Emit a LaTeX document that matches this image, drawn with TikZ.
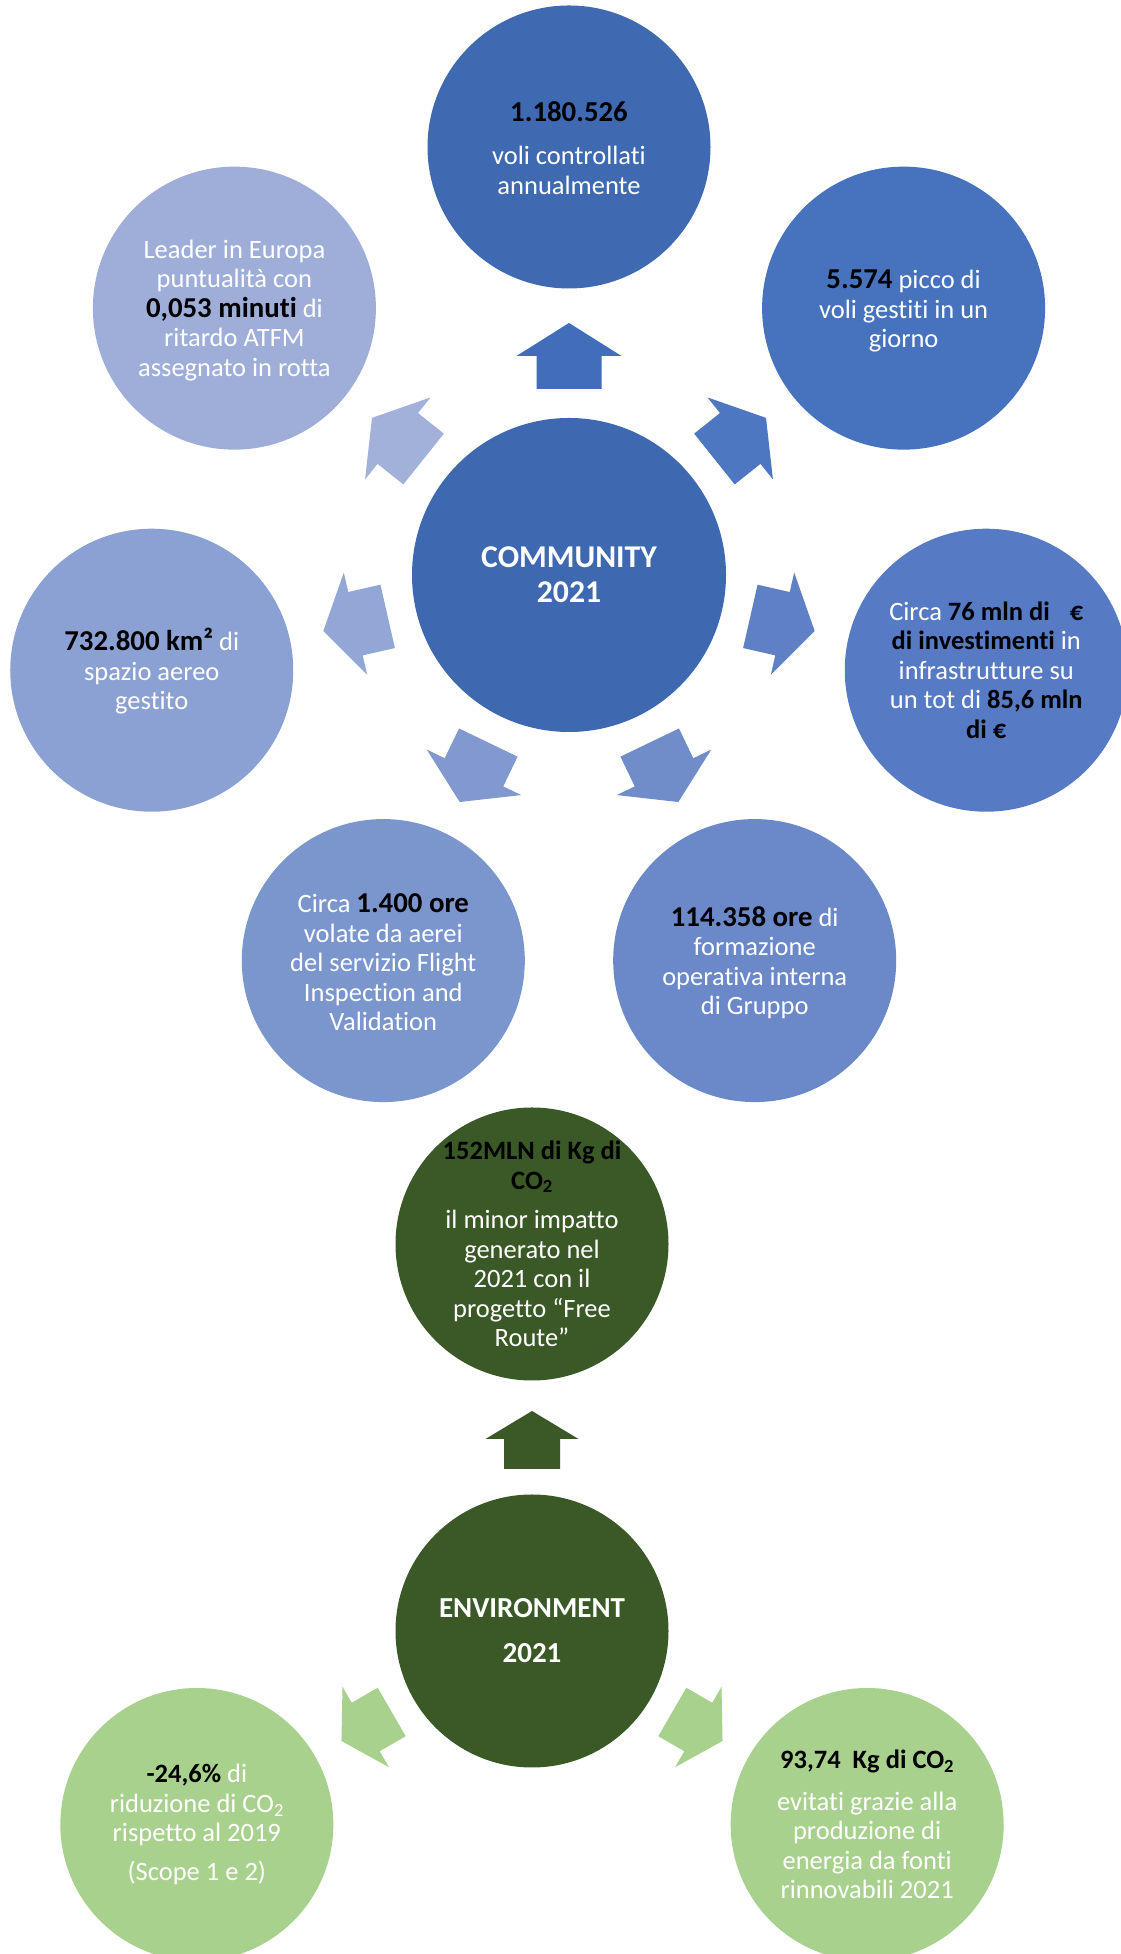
\documentclass[tikz,border=0pt]{standalone}
\usepackage{fontspec}
\setmainfont{Carlito}[RawFeature={-liga;-clig;-dlig}]
\usetikzlibrary{calc}
\definecolor{cCen}{HTML}{3E68B0}
\definecolor{cTop}{HTML}{3F69B1}
\definecolor{aTop}{HTML}{416DBB}
\definecolor{cTR}{HTML}{4672BE}
\definecolor{aTR}{HTML}{4D77C1}
\definecolor{cR}{HTML}{567AC3}
\definecolor{aR}{HTML}{5E81C6}
\definecolor{cBR}{HTML}{6B88C8}
\definecolor{aBR}{HTML}{708DCA}
\definecolor{cBL}{HTML}{7B95CD}
\definecolor{aBL}{HTML}{8199CF}
\definecolor{cL}{HTML}{8BA1D3}
\definecolor{aL}{HTML}{92A7D5}
\definecolor{cTL}{HTML}{9EAED8}
\definecolor{aTL}{HTML}{A1B1D9}
\definecolor{gDark}{HTML}{3A5926}
\definecolor{gLight}{HTML}{A9D18E}
\newcommand\bk[1]{{\fontsize{28.8}{29.5}\selectfont\bfseries\color{black}#1}}
\newcommand\bn[1]{{\bfseries\color{black}#1}}
\newcommand\blockarrow[8]{\fill[#3,shift={(#1.center)},rotate=#2] (#4,-#7) -- (#5,-#7) -- (#5,-#8) -- (#6,0) -- (#5,#8) -- (#5,#7) -- (#4,#7) -- cycle;}
\begin{document}
\begin{tikzpicture}[x=1pt,y=1pt,
  sat/.style={circle,inner sep=0pt,minimum size=283pt,draw=none},
  gsat/.style={circle,inner sep=0pt,minimum size=273pt,draw=none},
  txt/.style={align=center,text=white,inner sep=0pt,font=\fontsize{26.5}{29.5}\selectfont}]
\useasboundingbox (0,0) rectangle (1121,1954);
\fill[white] (0,0) rectangle (1121,1954);
% ---------------- COMMUNITY ----------------
\node[circle,inner sep=0pt,minimum size=314pt,fill=cCen] (com) at (569,1379) {};
\node[txt,font=\fontsize{31.7}{35}\selectfont\bfseries] (comT) at (com) {COMMUNITY\\2021};

\node[sat,fill=cTop] (top) at ($(com)+(90:428)$) {};
\node[sat,fill=cTR] (tr) at ($(com)+(38.571:428)$) {};
\node[sat,fill=cR] (rt) at ($(com)+(-12.857:428)$) {};
\node[sat,fill=cBR] (br) at ($(com)+(-64.286:428)$) {};
\node[sat,fill=cBL] (bl) at ($(com)+(-115.714:428)$) {};
\node[sat,fill=cL] (lt) at ($(com)+(-167.143:428)$) {};
\node[sat,fill=cTL] (tl) at ($(com)+(141.429:428)$) {};

\blockarrow{com}{90}{aTop}{186}{219}{252}{32.5}{52.5}
\blockarrow{com}{38.571}{aTR}{186}{219}{252}{32.5}{52.5}
\blockarrow{com}{-12.857}{aR}{186}{219}{252}{32.5}{52.5}
\blockarrow{com}{-64.286}{aBR}{186}{219}{252}{32.5}{52.5}
\blockarrow{com}{-115.714}{aBL}{186}{219}{252}{32.5}{52.5}
\blockarrow{com}{-167.143}{aL}{186}{219}{252}{32.5}{52.5}
\blockarrow{com}{141.429}{aTL}{186}{219}{252}{32.5}{52.5}

\node[txt] (topT) at ($(top)+(0,-1)$) {\bk{1.180.526}\\[14pt]voli controllati\\annualmente};
\node[txt] (trT) at ($(tr)+(0,-3)$) {\bk{5.574} picco di\\voli gestiti in un\\giorno};
\node[txt] (rtT) at (rt) {Circa \bn{76 mln di\hspace{20pt}€}\\\bn{di investimenti} in\\infrastrutture su\\un tot di \bn{85,6 mln}\\\bn{di €}};
\node[txt] (brT) at ($(br)+(0,-2)$) {\bk{114.358 ore} di\\formazione\\operativa interna\\di Gruppo};
\node[txt] (blT) at ($(bl)+(0,-2)$) {Circa \bk{1.400 ore}\\volate da aerei\\del servizio Flight\\Inspection and\\Validation};
\node[txt] (ltT) at ($(lt)+(0,-1)$) {\bk{732.800 km²} di\\spazio aereo\\gestito};
\node[txt] (tlT) at ($(tl)+(0,-2)$) {Leader in Europa\\puntualità con\\\bk{0,053 minuti} di\\ritardo ATFM\\assegnato in rotta};

% ---------------- ENVIRONMENT ----------------
\node[gsat,fill=gDark] (env) at (532,323) {};
\node[txt,font=\fontsize{29}{35}\selectfont\bfseries] (envT) at (env) {ENVIRONMENT\\[10pt]2021};

\node[gsat,fill=gDark] (fr) at ($(env)+(90:387)$) {};
\node[gsat,fill=gLight] (gl) at ($(env)+(210:387)$) {};
\node[gsat,fill=gLight] (gr) at ($(env)+(330:387)$) {};

\blockarrow{env}{90}{gDark}{162}{192}{220}{28}{46.5}
\blockarrow{env}{210}{gLight}{162}{192}{220}{28}{46.5}
\blockarrow{env}{330}{gLight}{162}{192}{220}{28}{46.5}

\node[txt] (frT) at (fr) {\bn{152MLN di Kg di}\\\bn{CO\textsubscript{2}}\\[10pt]il minor impatto\\generato nel\\2021 con il\\progetto “Free\\Route”};
\node[txt] (glT) at (gl) {\bn{-24,6\%} di\\riduzione di CO\textsubscript{2}\\rispetto al 2019\\[9pt](Scope 1 e 2)};
\node[txt] (grT) at (gr) {\bn{93,74\ \ Kg di CO\textsubscript{2}}\\[12pt]evitati grazie alla\\produzione di\\energia da fonti\\rinnovabili 2021};
\end{tikzpicture}
\end{document}
